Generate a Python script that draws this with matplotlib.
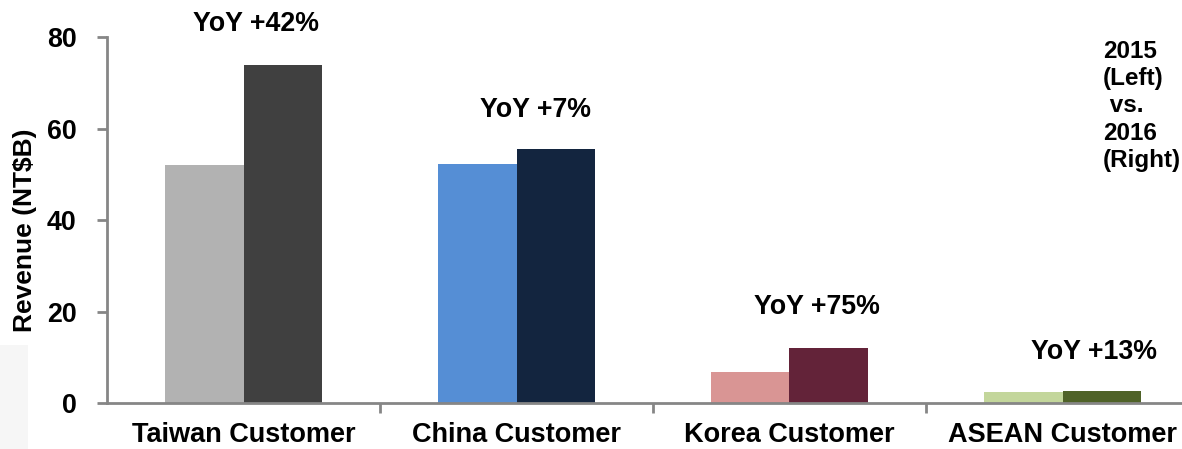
import numpy as np
import matplotlib
matplotlib.use("Agg")
import matplotlib.pyplot as plt
from matplotlib.patches import Rectangle

plt.rcParams['font.family'] = ['Liberation Sans', 'DejaVu Sans']
plt.rcParams['font.weight'] = 'bold'

### data ###
categories = ['Taiwan Customer', 'China Customer', 'Korea Customer', 'ASEAN Customer']
rev_2015 = [52.0, 52.2, 6.9, 2.5]
rev_2016 = [73.8, 55.5, 12.1, 2.75]
yoy_labels = ['YoY +42%', 'YoY +7%', 'YoY +75%', 'YoY +13%']
yoy_y = [82.8, 64.0, 21.0, 11.2]
yoy_dx = [0.046, 0.07, 0.10, 0.117]

colors_2015 = ['#B2B2B2', '#558ED5', '#D99594', '#C3D69B']
colors_2016 = ['#404040', '#13253F', '#632339', '#4F6228']

### figure ###
fig = plt.figure(figsize=(11.82, 4.49), dpi=100)
ax = fig.add_axes([107/1182, 1 - 403.3/449, 1092/1182, 366.3/449])

# faint grey box at lower left of the slide
fig.patches.append(Rectangle((0, 0), 28/1182, 104/449, transform=fig.transFigure,
                             facecolor='#F6F6F6', edgecolor='none', zorder=0))

x = np.arange(len(categories))
w = 0.286
ax.bar(x - w/2, rev_2015, width=w, color=colors_2015, zorder=2)
ax.bar(x + w/2, rev_2016, width=w, color=colors_2016, zorder=2)

for i, lab in enumerate(yoy_labels):
    ax.text(x[i] + yoy_dx[i], yoy_y[i], lab, ha='center', va='center',
            fontsize=19.3, fontweight='bold', clip_on=False)

ax.text(3.148, 79.4, '2015\n(Left)\n vs.\n2016\n(Right)', ha='left', va='top',
        fontsize=17.5, fontweight='bold', linespacing=1.24)

### axes styling ###
ax.set_xlim(-0.5, 3.5)
ax.set_ylim(0, 80)
ax.set_yticks([0, 20, 40, 60, 80])
ax.set_xticks([0.5, 1.5, 2.5, 3.5])
ax.set_xticklabels([])
ax.set_xticks(x, minor=True)
ax.set_xticklabels(categories, minor=True, fontsize=19.5, fontweight='bold')
ax.tick_params(axis='x', which='minor', length=0, pad=13.5)
ax.tick_params(axis='x', which='major', length=7, width=2, color='#868686')
ax.tick_params(axis='y', length=7, width=2, color='#868686', pad=15, labelsize=19.3)

for s in ['top', 'right']:
    ax.spines[s].set_visible(False)
for s in ['left', 'bottom']:
    ax.spines[s].set_color('#868686')
    ax.spines[s].set_linewidth(2)

ax.set_ylabel('Revenue (NT$B)', fontsize=19, fontweight='bold')
ax.yaxis.set_label_coords(-0.064, 0.473)

fig.savefig('out.png', dpi=100)
